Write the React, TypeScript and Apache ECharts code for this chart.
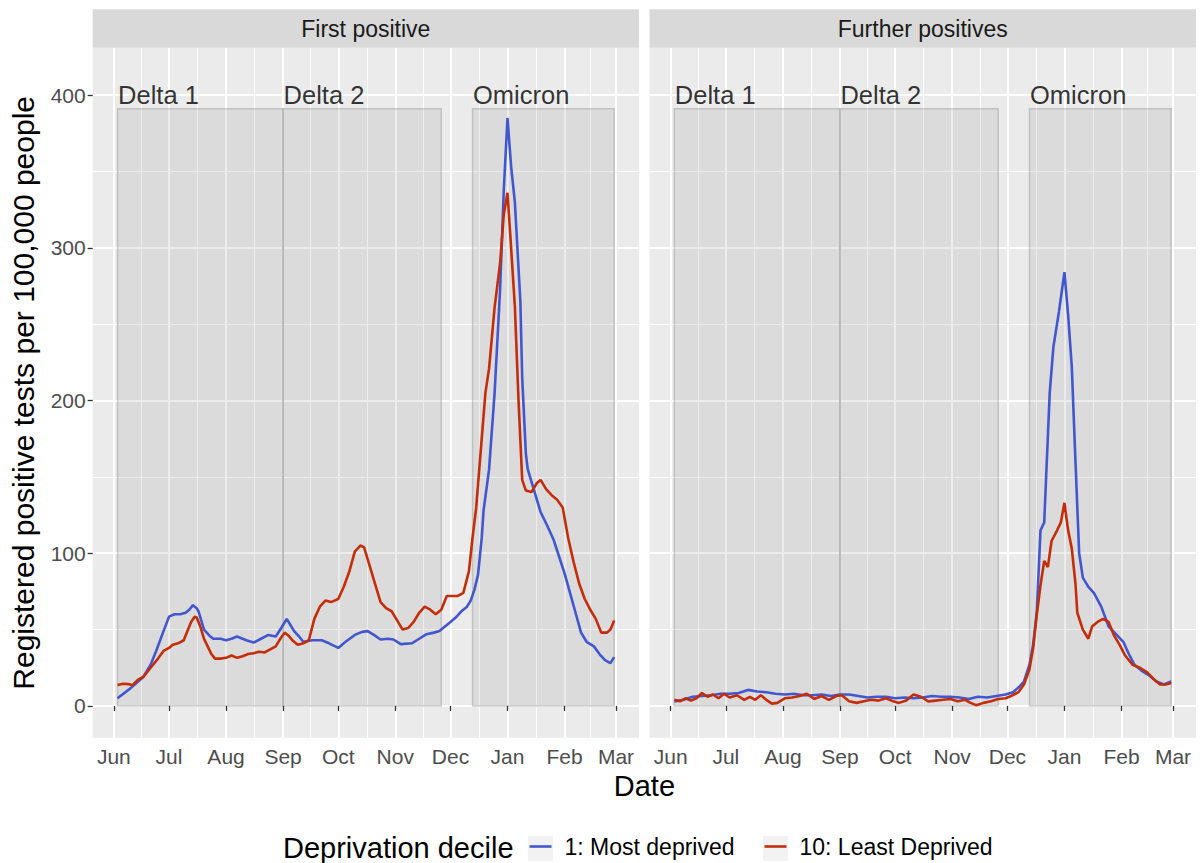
import React, { useEffect, useRef } from "react";
import * as echarts from "echarts";

// ---------- data ----------
const monthBreaks = [
  "2021-06-01", "2021-07-01", "2021-08-01", "2021-09-01", "2021-10-01",
  "2021-11-01", "2021-12-01", "2022-01-01", "2022-02-01", "2022-03-01",
];
const monthLabels = ["Jun", "Jul", "Aug", "Sep", "Oct", "Nov", "Dec", "Jan", "Feb", "Mar"];
const yBreaks = [0, 100, 200, 300, 400];
const yMinorBreaks = [50, 150, 250, 350];
const yLimits = [-20.8, 430.8];

const panelTitles = ["First positive", "Further positives"];
const seriesNames = ["1: Most deprived", "10: Least Deprived"];
const seriesColors = ["#4257CF", "#C42D0A"];
const legendTitle = "Deprivation decile";
const xTitle = "Date";
const yTitle = "Registered positive tests per 100,000 people";

const periodNames = ["Delta 1", "Delta 2", "Omicron"];
const periodStarts = ["2021-06-03", "2021-09-01", "2021-12-13"];
const periodEnds = ["2021-09-01", "2021-11-26", "2022-02-28"];
const periodTop = 391;
const periodLabelY = 400;

const firstMost: [string, number][] = [
  ["2021-06-03", 5], ["2021-06-10", 11.5], ["2021-06-17", 19], ["2021-06-21", 27],
  ["2021-06-24", 36], ["2021-06-28", 49], ["2021-07-01", 58.5], ["2021-07-04", 60],
  ["2021-07-07", 60], ["2021-07-10", 61], ["2021-07-12", 63], ["2021-07-14", 66],
  ["2021-07-16", 64], ["2021-07-17", 62], ["2021-07-20", 50], ["2021-07-23", 46],
  ["2021-07-25", 44], ["2021-07-29", 44], ["2021-08-01", 43], ["2021-08-04", 44],
  ["2021-08-07", 45.5], ["2021-08-10", 44], ["2021-08-12", 43], ["2021-08-16", 41.5],
  ["2021-08-20", 44], ["2021-08-24", 46.5], ["2021-08-28", 45.5], ["2021-08-31", 51],
  ["2021-09-03", 57], ["2021-09-05", 53], ["2021-09-07", 49], ["2021-09-10", 45],
  ["2021-09-12", 42], ["2021-09-17", 43], ["2021-09-22", 43], ["2021-09-26", 41],
  ["2021-10-01", 38], ["2021-10-05", 42], ["2021-10-10", 46.5], ["2021-10-14", 48.5],
  ["2021-10-17", 49], ["2021-10-21", 46], ["2021-10-24", 43.5], ["2021-10-28", 44],
  ["2021-10-31", 43.5], ["2021-11-04", 40.5], ["2021-11-10", 41], ["2021-11-14", 44],
  ["2021-11-18", 47], ["2021-11-22", 48], ["2021-11-25", 49], ["2021-11-28", 52],
  ["2021-12-01", 55], ["2021-12-04", 58], ["2021-12-07", 62], ["2021-12-10", 65],
  ["2021-12-12", 69], ["2021-12-14", 76], ["2021-12-16", 86], ["2021-12-18", 110],
  ["2021-12-19", 128], ["2021-12-22", 155], ["2021-12-25", 205], ["2021-12-28", 273],
  ["2021-12-30", 338], ["2022-01-01", 385], ["2022-01-03", 353], ["2022-01-05", 330],
  ["2022-01-08", 265], ["2022-01-09", 215], ["2022-01-11", 165], ["2022-01-12", 155],
  ["2022-01-15", 143], ["2022-01-19", 127], ["2022-01-23", 117], ["2022-01-26", 109],
  ["2022-01-29", 98], ["2022-02-01", 87], ["2022-02-04", 74], ["2022-02-07", 61],
  ["2022-02-10", 48], ["2022-02-13", 42], ["2022-02-17", 39], ["2022-02-20", 34],
  ["2022-02-23", 30], ["2022-02-26", 28], ["2022-02-28", 32],
];

const firstLeast: [string, number][] = [
  ["2021-06-03", 13.7], ["2021-06-06", 14.5], ["2021-06-09", 14.3], ["2021-06-11", 13.5],
  ["2021-06-14", 17], ["2021-06-17", 19], ["2021-06-21", 25], ["2021-06-25", 31],
  ["2021-06-28", 36], ["2021-07-01", 38], ["2021-07-03", 40], ["2021-07-06", 41],
  ["2021-07-09", 43], ["2021-07-11", 49], ["2021-07-13", 55], ["2021-07-15", 58.5],
  ["2021-07-16", 58], ["2021-07-18", 52], ["2021-07-20", 44], ["2021-07-22", 39],
  ["2021-07-24", 34], ["2021-07-26", 31], ["2021-07-29", 31], ["2021-08-01", 31.5],
  ["2021-08-04", 33], ["2021-08-07", 31.5], ["2021-08-10", 32.5], ["2021-08-13", 34],
  ["2021-08-16", 34.5], ["2021-08-19", 35.5], ["2021-08-22", 35], ["2021-08-25", 37],
  ["2021-08-28", 39], ["2021-08-31", 45], ["2021-09-02", 48], ["2021-09-04", 46],
  ["2021-09-06", 43], ["2021-09-09", 40], ["2021-09-12", 41], ["2021-09-15", 43],
  ["2021-09-18", 57], ["2021-09-21", 65], ["2021-09-24", 69], ["2021-09-27", 68],
  ["2021-10-01", 70], ["2021-10-04", 78], ["2021-10-07", 88], ["2021-10-10", 101],
  ["2021-10-13", 105], ["2021-10-15", 104], ["2021-10-18", 92], ["2021-10-21", 80],
  ["2021-10-24", 68], ["2021-10-27", 64], ["2021-10-30", 62], ["2021-11-02", 56],
  ["2021-11-05", 50], ["2021-11-08", 51], ["2021-11-11", 55], ["2021-11-14", 61],
  ["2021-11-17", 65], ["2021-11-20", 63], ["2021-11-23", 60], ["2021-11-26", 63],
  ["2021-11-29", 72], ["2021-12-02", 72], ["2021-12-05", 72], ["2021-12-08", 74],
  ["2021-12-11", 88], ["2021-12-13", 110], ["2021-12-15", 130], ["2021-12-18", 175],
  ["2021-12-20", 205], ["2021-12-22", 221], ["2021-12-25", 261], ["2021-12-28", 290],
  ["2021-12-30", 322], ["2022-01-01", 336], ["2022-01-02", 318], ["2022-01-05", 262],
  ["2022-01-07", 200], ["2022-01-09", 148], ["2022-01-11", 141], ["2022-01-14", 140],
  ["2022-01-17", 146], ["2022-01-19", 148], ["2022-01-22", 142], ["2022-01-25", 138],
  ["2022-01-28", 135], ["2022-01-31", 130], ["2022-02-03", 110], ["2022-02-06", 94],
  ["2022-02-09", 80], ["2022-02-12", 70], ["2022-02-15", 63], ["2022-02-18", 57],
  ["2022-02-21", 48], ["2022-02-24", 48], ["2022-02-26", 50], ["2022-02-28", 56],
];

const furtherMost: [string, number][] = [
  ["2021-06-03", 3], ["2021-06-08", 4], ["2021-06-13", 6], ["2021-06-18", 6.5],
  ["2021-06-23", 7], ["2021-06-28", 8], ["2021-07-03", 8], ["2021-07-08", 8.5],
  ["2021-07-13", 10.5], ["2021-07-18", 9.5], ["2021-07-23", 9], ["2021-07-28", 8],
  ["2021-08-02", 7.5], ["2021-08-07", 8], ["2021-08-12", 7], ["2021-08-17", 7],
  ["2021-08-22", 7.5], ["2021-08-27", 6.5], ["2021-09-01", 7.5], ["2021-09-06", 7.5],
  ["2021-09-11", 6.5], ["2021-09-16", 5.5], ["2021-09-21", 6], ["2021-09-26", 6],
  ["2021-10-01", 5], ["2021-10-06", 5.5], ["2021-10-11", 5], ["2021-10-16", 5.5],
  ["2021-10-21", 6.5], ["2021-10-26", 6], ["2021-10-31", 6], ["2021-11-05", 5.5],
  ["2021-11-10", 4.5], ["2021-11-15", 6], ["2021-11-20", 5.5], ["2021-11-25", 6.5],
  ["2021-11-30", 7.5], ["2021-12-04", 9], ["2021-12-07", 12], ["2021-12-10", 16],
  ["2021-12-13", 27], ["2021-12-15", 40], ["2021-12-17", 62], ["2021-12-19", 115],
  ["2021-12-21", 120], ["2021-12-24", 205], ["2021-12-26", 235], ["2021-12-29", 258],
  ["2022-01-01", 284], ["2022-01-03", 256], ["2022-01-05", 222], ["2022-01-07", 160],
  ["2022-01-09", 100], ["2022-01-11", 84], ["2022-01-14", 78], ["2022-01-17", 74],
  ["2022-01-21", 65], ["2022-01-25", 52], ["2022-01-29", 47], ["2022-02-02", 42],
  ["2022-02-05", 34], ["2022-02-08", 27], ["2022-02-12", 23], ["2022-02-16", 20],
  ["2022-02-20", 16], ["2022-02-24", 14], ["2022-02-28", 16],
];

const furtherLeast: [string, number][] = [
  ["2021-06-03", 4], ["2021-06-06", 3], ["2021-06-09", 5], ["2021-06-12", 3.5],
  ["2021-06-15", 5], ["2021-06-18", 8.5], ["2021-06-21", 6], ["2021-06-24", 7.5],
  ["2021-06-27", 5], ["2021-06-30", 8], ["2021-07-03", 5.5], ["2021-07-07", 7],
  ["2021-07-11", 4], ["2021-07-14", 6], ["2021-07-17", 4], ["2021-07-20", 7],
  ["2021-07-23", 4], ["2021-07-26", 1.5], ["2021-07-29", 2], ["2021-08-02", 5],
  ["2021-08-06", 5.5], ["2021-08-10", 6.5], ["2021-08-14", 8], ["2021-08-18", 4.5],
  ["2021-08-22", 6.5], ["2021-08-26", 4], ["2021-08-30", 6.5], ["2021-09-02", 7],
  ["2021-09-06", 3], ["2021-09-10", 2], ["2021-09-14", 3], ["2021-09-18", 4],
  ["2021-09-22", 3.5], ["2021-09-26", 5], ["2021-09-30", 3], ["2021-10-03", 2],
  ["2021-10-07", 3.5], ["2021-10-11", 7.5], ["2021-10-15", 6], ["2021-10-19", 3],
  ["2021-10-23", 3.5], ["2021-10-27", 4], ["2021-10-31", 4.5], ["2021-11-04", 3],
  ["2021-11-08", 4], ["2021-11-11", 2], ["2021-11-14", 0.5], ["2021-11-18", 2],
  ["2021-11-22", 3], ["2021-11-26", 4.5], ["2021-11-30", 5], ["2021-12-03", 6.5],
  ["2021-12-07", 9], ["2021-12-10", 14], ["2021-12-13", 24], ["2021-12-15", 38],
  ["2021-12-17", 60], ["2021-12-19", 79], ["2021-12-21", 95], ["2021-12-23", 91],
  ["2021-12-25", 108], ["2021-12-28", 115], ["2021-12-30", 120], ["2022-01-01", 133],
  ["2022-01-03", 115], ["2022-01-05", 103], ["2022-01-07", 80], ["2022-01-08", 61],
  ["2022-01-11", 50], ["2022-01-14", 44], ["2022-01-16", 52], ["2022-01-19", 55],
  ["2022-01-22", 57], ["2022-01-25", 55], ["2022-01-28", 46], ["2022-01-31", 40],
  ["2022-02-03", 33], ["2022-02-07", 27], ["2022-02-11", 25], ["2022-02-15", 22],
  ["2022-02-19", 17], ["2022-02-22", 14], ["2022-02-25", 14], ["2022-02-28", 15],
];

// ---------- helpers ----------
const ts = (s: string) => {
  const [y, m, d] = s.split("-").map(Number);
  return Date.UTC(y, m - 1, d);
};

const FONT = "'Liberation Sans', Arial, sans-serif";

export default function App() {
  const ref = useRef<HTMLDivElement>(null);

  useEffect(() => {
    if (!ref.current) return;
    const chart = echarts.init(ref.current, undefined, { renderer: "svg" });

    const majorX = monthBreaks.map(ts);
    const minorX = majorX.slice(0, -1).map((v, i) => (v + majorX[i + 1]) / 2);
    const dataMin = ts(periodStarts[0]);
    const dataMax = ts(periodEnds[periodEnds.length - 1]);
    const span = dataMax - dataMin;
    const xMin = dataMin - 0.05 * span;
    const xMax = dataMax + 0.05 * span;

    const monthFmt = (v: number) => {
      let best = 0;
      majorX.forEach((m, i) => {
        if (Math.abs(m - v) < Math.abs(majorX[best] - v)) best = i;
      });
      return monthLabels[best];
    };

    const panels = [
      { left: 92.7, width: 546.3 },
      { left: 649.5, width: 546.5 },
    ];
    const gridTop = 48;
    const gridHeight = 689.7;

    const grids = panels.map((p) => ({
      left: p.left,
      top: gridTop,
      width: p.width,
      height: gridHeight,
      show: true,
      backgroundColor: "#EBEBEB",
      borderWidth: 0,
      containLabel: false,
      outerBoundsMode: "none",
    }));

    const xAxes: any[] = [];
    const yAxes: any[] = [];
    panels.forEach((_, gi) => {
      xAxes.push({
        type: "value",
        gridIndex: gi,
        min: xMin,
        max: xMax,
        axisLine: { show: false },
        axisTick: {
          show: true,
          customValues: majorX,
          length: 5,
          lineStyle: { color: "#333333", width: 1.3 },
        },
        axisLabel: {
          show: true,
          customValues: majorX,
          formatter: (v: number) => monthFmt(v),
          fontSize: 21,
          color: "#4D4D4D",
          fontFamily: FONT,
          margin: 8,
        },
        splitLine: { show: true, lineStyle: { color: "#FFFFFF", width: 2 } },
        z: 1,
      });
      xAxes.push({
        type: "value",
        gridIndex: gi,
        min: xMin,
        max: xMax,
        axisLine: { show: false },
        axisTick: { show: false, customValues: minorX },
        axisLabel: { show: false, customValues: minorX },
        splitLine: { show: true, lineStyle: { color: "#FFFFFF", width: 1 } },
        z: 0,
      });
      yAxes.push({
        type: "value",
        gridIndex: gi,
        min: yLimits[0],
        max: yLimits[1],
        axisLine: { show: false },
        axisTick: {
          show: gi === 0,
          customValues: yBreaks,
          length: 5,
          lineStyle: { color: "#333333", width: 1.3 },
        },
        axisLabel: {
          show: gi === 0,
          customValues: yBreaks,
          fontSize: 21,
          color: "#4D4D4D",
          fontFamily: FONT,
          margin: 7,
        },
        splitLine: { show: true, lineStyle: { color: "#FFFFFF", width: 2 } },
        name: gi === 0 ? yTitle : "",
        nameLocation: "middle",
        nameRotate: 90,
        nameGap: 54,
        nameTextStyle: { fontSize: 30, color: "#000000", fontFamily: FONT },
        z: 1,
      });
      yAxes.push({
        type: "value",
        gridIndex: gi,
        min: yLimits[0],
        max: yLimits[1],
        axisLine: { show: false },
        axisTick: { show: false, customValues: yMinorBreaks },
        axisLabel: { show: false, customValues: yMinorBreaks },
        splitLine: { show: true, lineStyle: { color: "#FFFFFF", width: 1 } },
        z: 0,
      });
    });

    const lineData = [
      [firstMost, firstLeast],
      [furtherMost, furtherLeast],
    ];

    const series: any[] = [];
    panels.forEach((_, gi) => {
      const xi = gi * 2;
      const yi = gi * 2;
      series.push({
        type: "line",
        name: "periods" + gi,
        xAxisIndex: xi,
        yAxisIndex: yi,
        data: [],
        silent: true,
        z: 2,
        markArea: {
          silent: true,
          itemStyle: {
            color: "rgba(128,128,128,0.15)",
            borderColor: "rgba(128,128,128,0.35)",
            borderWidth: 1.5,
          },
          label: { show: false },
          data: periodNames.map((n, i) => [
            { xAxis: ts(periodStarts[i]), yAxis: 0 },
            { xAxis: ts(periodEnds[i]), yAxis: periodTop },
          ]),
        },
      });
      series.push({
        type: "scatter",
        name: "labels" + gi,
        xAxisIndex: xi,
        yAxisIndex: yi,
        symbolSize: 1,
        itemStyle: { color: "rgba(0,0,0,0)" },
        silent: true,
        z: 4,
        data: periodNames.map((n, i) => ({
          value: [ts(periodStarts[i]), periodLabelY],
          name: n,
        })),
        label: {
          show: true,
          position: "right",
          distance: 0,
          formatter: (p: any) => p.name,
          fontSize: 25.5,
          color: "#000000",
          fontFamily: FONT,
        },
      });
      lineData[gi].forEach((d, si) => {
        series.push({
          type: "line",
          name: seriesNames[si],
          xAxisIndex: xi,
          yAxisIndex: yi,
          showSymbol: false,
          symbol: "none",
          color: seriesColors[si],
          lineStyle: { color: seriesColors[si], width: 2.6 },
          z: 3 + (si === 1 ? 1 : 0),
          data: d.map(([dt, v]) => [ts(dt), v]),
        });
      });
    });

    const graphics: any[] = [];
    panels.forEach((p, gi) => {
      graphics.push({
        type: "rect",
        shape: { x: p.left, y: 9.3, width: p.width, height: 38.4 },
        style: { fill: "#D9D9D9" },
        silent: true,
      });
      graphics.push({
        type: "text",
        x: p.left + p.width / 2,
        y: 28.5,
        style: {
          text: panelTitles[gi],
          fill: "#1A1A1A",
          fontSize: 23,
          fontFamily: FONT,
          align: "center",
          verticalAlign: "middle",
        },
        silent: true,
      });
    });
    graphics.push({
      type: "text",
      x: 644.4,
      y: 786,
      style: {
        text: xTitle,
        fill: "#000000",
        fontSize: 29,
        fontFamily: FONT,
        align: "center",
        verticalAlign: "middle",
      },
    });
    graphics.push({
      type: "text",
      x: 283,
      y: 848,
      style: {
        text: legendTitle,
        fill: "#000000",
        fontSize: 29,
        fontFamily: FONT,
        align: "left",
        verticalAlign: "middle",
      },
    });
    [528, 763].forEach((x) => {
      graphics.push({
        type: "rect",
        shape: { x, y: 836, width: 25, height: 25 },
        style: { fill: "#F2F2F2" },
        silent: true,
      });
    });

    const legends = seriesNames.map((n, i) => ({
      show: true,
      data: [{ name: n, icon: "rect" }],
      left: i === 0 ? 529.5 : 764.5,
      top: 835,
      padding: 0,
      itemWidth: 22,
      itemHeight: 2.6,
      selectedMode: false,
      textStyle: {
        fontSize: 23,
        color: "#000000",
        fontFamily: FONT,
        padding: [0, 0, 0, 8],
      },
    }));

    chart.setOption({
      animation: false,
      backgroundColor: "#FFFFFF",
      textStyle: { fontFamily: FONT },
      grid: grids,
      xAxis: xAxes,
      yAxis: yAxes,
      series,
      legend: legends,
      graphic: graphics,
    });

    return () => chart.dispose();
  }, []);

  return (
    <div
      ref={ref}
      style={{ position: "fixed", left: 0, top: 0, width: 1202, height: 863 }}
    />
  );
}
